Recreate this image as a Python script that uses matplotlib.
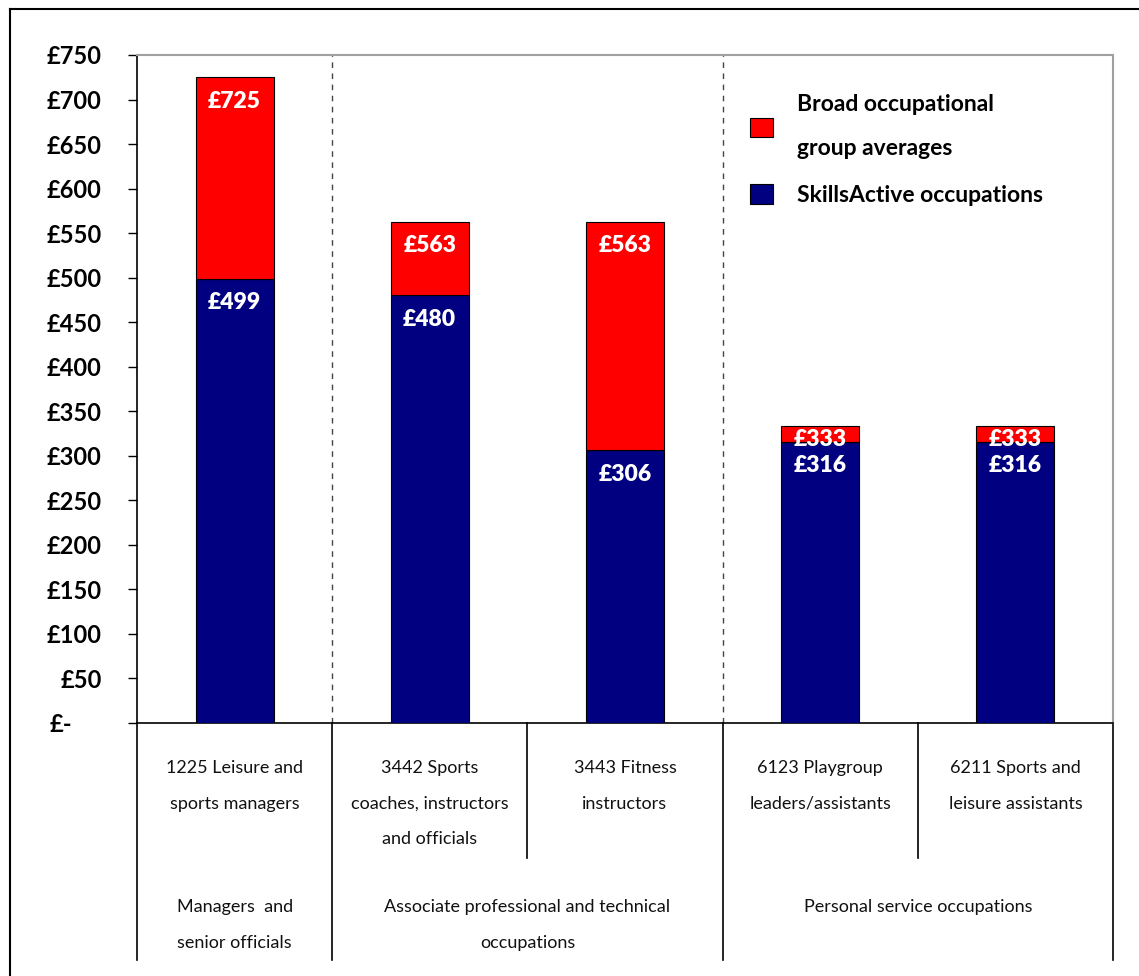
import numpy as np
import matplotlib.pyplot as plt
from matplotlib.lines import Line2D
from matplotlib.transforms import ScaledTranslation

# weekly pay, SkillsActive occupation vs. its broad group average
occupations = ["1225 Leisure and\nsports managers",
               "3442 Sports\ncoaches, instructors\nand officials",
               "3443 Fitness\ninstructors",
               "6123 Playgroup\nleaders/assistants",
               "6211 Sports and\nleisure assistants"]
skillsactive = [499, 480, 306, 316, 316]
group_avg = [725, 563, 563, 333, 333]

groups = ["Managers  and\nsenior officials",
          "Associate professional and technical\noccupations",
          "Personal service occupations"]
group_first = [0, 1, 3]
group_last = [0, 2, 4]

yticks = list(range(0, 751, 50))
ytick_labels = ["£-"] + ["£%d" % v for v in yticks[1:]]

plt.rcParams['font.family'] = ['Lato', 'DejaVu Sans']

W, H = 1139, 976
fig = plt.figure(figsize=(W / 100, H / 100), dpi=100)
ax = fig.add_axes([137 / W, 1 - 723 / H, (1113 - 137) / W, 668 / H])

x = np.arange(len(occupations))
sa = np.array(skillsactive)
ga = np.array(group_avg)

blue = ax.bar(x, sa, width=0.4, color='#000080', edgecolor='black', linewidth=0.8,
              label="SkillsActive occupations", zorder=3)
red = ax.bar(x, ga - sa, bottom=sa, width=0.4, color='#ff0000', edgecolor='black',
             linewidth=0.8, label="Broad occupational\ngroup averages", zorder=3)

# value labels near the top of each segment
for i in range(len(x)):
    for bottom, top in [(0, sa[i]), (sa[i], ga[i])]:
        y = top - min(27, max(15, (top - bottom) / 2))
        ax.text(x[i], y, "£%d" % top, ha='center', va='center', color='white',
                fontsize=16.5, fontweight='heavy', zorder=4)

ax.set_xlim(-0.5, len(x) - 0.5)
ax.set_ylim(0, 750)
ax.set_xticks([])
ax.set_yticks(yticks)
ax.set_yticklabels(ytick_labels, fontsize=17, fontweight='bold')
ax.tick_params(axis='y', direction='out', length=6.5, width=1, pad=19)
ax.get_yticklabels()[0].set_transform(
    ax.get_yticklabels()[0].get_transform() + ScaledTranslation(-0.29, 0, fig.dpi_scale_trans))

for side in ['left', 'bottom']:
    ax.spines[side].set_color('black')
    ax.spines[side].set_linewidth(1.2)
for side in ['top', 'right']:
    ax.spines[side].set_color('#a0a0a0')
    ax.spines[side].set_linewidth(1.5)

# dashed separators between broad groups
for b in [0.5, 2.5]:
    ax.axvline(b, color='#444444', linestyle=(0, (4, 4)), linewidth=1, zorder=1)

# category table below the axis
xt = ax.get_xaxis_transform()
for b in [-0.5, 0.5, 2.5, 4.5]:
    ax.plot([b, b], [0, -0.355], color='black', linewidth=1.2, transform=xt, clip_on=False)
for b in [1.5, 3.5]:
    ax.plot([b, b], [0, -0.202], color='black', linewidth=1.2, transform=xt, clip_on=False)

for i, lab in enumerate(occupations):
    ax.text(x[i], -0.056, lab, transform=xt, ha='center', va='top', fontsize=13,
            linespacing=2.5, color='#111111')
for g, lab in enumerate(groups):
    cx = (group_first[g] + group_last[g]) / 2
    ax.text(cx, -0.264, lab, transform=xt, ha='center', va='top', fontsize=13,
            linespacing=2.5, color='#111111')

leg = ax.legend(handles=[red, blue], loc='upper left', bbox_to_anchor=(0.607, 0.972),
                frameon=False, prop={'size': 16.5, 'weight': 'bold'},
                handlelength=1.0, handleheight=0.9, handletextpad=1.05, labelspacing=1.1)
for t in leg.get_texts():
    t.set_linespacing(2.35)

# outer frame
fig.add_artist(Line2D([9.5 / W, 9.5 / W], [0, 1 - 8.5 / H], transform=fig.transFigure,
                      color='black', linewidth=1.5))
fig.add_artist(Line2D([9.5 / W, 1], [1 - 8.5 / H, 1 - 8.5 / H], transform=fig.transFigure,
                      color='black', linewidth=1.5))

fig.savefig("out.png", dpi=100)
